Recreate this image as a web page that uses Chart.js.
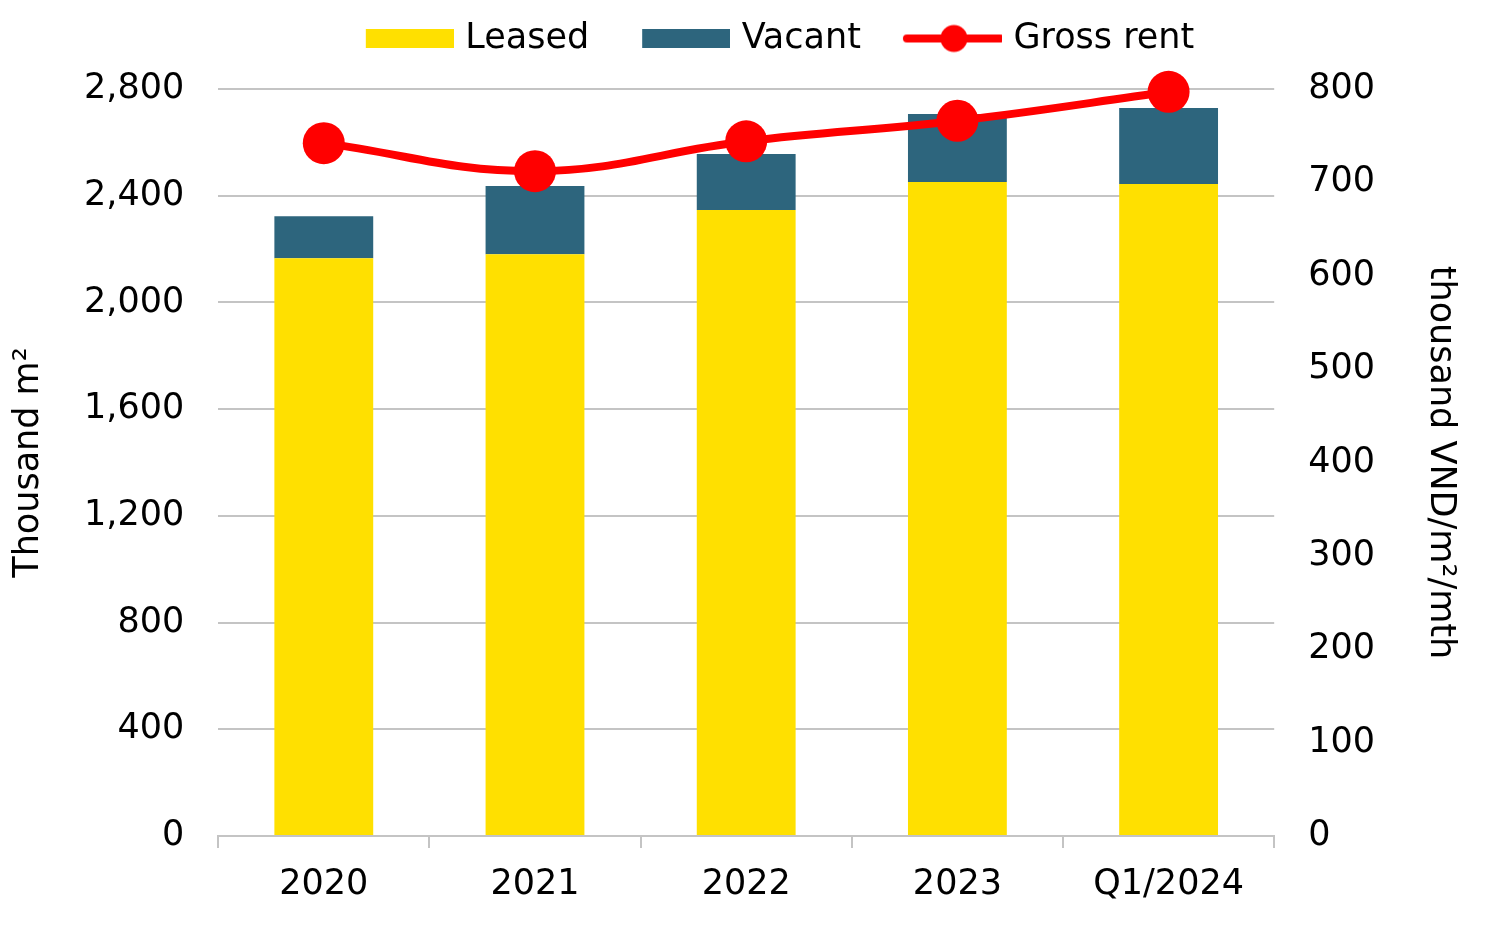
<!DOCTYPE html>
<html>
<head>
<meta charset="utf-8">
<title>Office supply and rent</title>
<script src="https://cdn.jsdelivr.net/npm/chart.js@4.4.0/dist/chart.umd.min.js"></script>
<style>
  body { margin: 0; background: #ffffff; }
  #wrap { width: 1485px; height: 940px; }
</style>
</head>
<body>
<div id="wrap"><canvas id="supplyChart"></canvas></div>
<script>
// values
var categories = ['2020', '2021', '2022', '2023', 'Q1/2024'];
var leased = [2166, 2181, 2346, 2451, 2444];      // thousand m2
var vacant = [157, 255, 210, 255, 285];           // thousand m2
var grossRent = [742, 712, 744, 766, 797];        // thousand VND/m2/mth
var leftTicks = [0, 400, 800, 1200, 1600, 2000, 2400, 2800];
var rightTicks = [0, 100, 200, 300, 400, 500, 600, 700, 800];

var YELLOW = '#FFE000';
var TEAL = '#2D657D';
var RED = '#FF0000';
var GRID = '#C4C4C4';

Chart.defaults.font.family = "'DejaVu Sans', sans-serif";
Chart.defaults.font.size = 35;
Chart.defaults.color = '#000000';

// legend icons drawn into small canvases, used as point styles
var BOX_W = 99;
var ICON_W = BOX_W + 12;
function makeIcon(h, draw) {
    var c = document.createElement('canvas');
    c.width = ICON_W;
    c.height = h;
    draw(c.getContext('2d'));
    return c;
}
var leasedIcon = makeIcon(19, function(ctx) {
    ctx.fillStyle = YELLOW;
    ctx.fillRect(ICON_W - 88, 0, 88, 19);
});
var vacantIcon = makeIcon(19, function(ctx) {
    ctx.fillStyle = TEAL;
    ctx.fillRect(ICON_W - 88, 0, 88, 19);
});
var rentIcon = makeIcon(30, function(ctx) {
    ctx.strokeStyle = RED;
    ctx.lineWidth = 8;
    ctx.lineCap = 'round';
    ctx.beginPath();
    ctx.moveTo(ICON_W - 95, 15);
    ctx.lineTo(ICON_W - 2, 15);
    ctx.stroke();
    ctx.fillStyle = RED;
    ctx.beginPath();
    ctx.arc(ICON_W - 48, 15, 13.5, 0, Math.PI * 2);
    ctx.fill();
});

// move the legend a bit so it sits where the original one does
var legendNudge = {
    id: 'legendNudge',
    afterLayout: function(chart) {
        var lg = chart.legend;
        lg.left += 25;
        lg.right += 25;
        lg.top -= 23;
        lg.bottom -= 23;
    }
};

function thousands(v) {
    return Number(v).toLocaleString('en-US');
}

var canvas = document.getElementById('supplyChart');
var supplyChart = new Chart(canvas, {
    type: 'bar',
    data: {
        labels: categories,
        datasets: [{
            label: 'Leased',
            data: leased,
            backgroundColor: YELLOW,
            borderWidth: 0,
            yAxisID: 'y',
            order: 1
        }, {
            label: 'Vacant',
            data: vacant,
            backgroundColor: TEAL,
            borderWidth: 0,
            yAxisID: 'y',
            order: 1
        }, {
            type: 'line',
            label: 'Gross rent',
            data: grossRent,
            yAxisID: 'y1',
            borderColor: RED,
            backgroundColor: RED,
            borderWidth: 8,
            pointRadius: 21,
            pointBorderWidth: 0,
            pointBackgroundColor: RED,
            tension: 0.4,
            clip: false,
            order: 0
        }]
    },
    options: {
        responsive: true,
        maintainAspectRatio: false,
        animation: false,
        layout: {
            padding: { top: 8, left: 8, right: 0, bottom: 18 }
        },
        datasets: {
            bar: { barPercentage: 0.468, categoryPercentage: 1 }
        },
        plugins: {
            tooltip: { enabled: false },
            legend: {
                position: 'top',
                labels: {
                    usePointStyle: true,
                    pointStyleWidth: BOX_W,
                    padding: 36,
                    font: { size: 35 },
                    generateLabels: function() {
                        return [
                            { text: 'Leased', pointStyle: leasedIcon, fillStyle: YELLOW, lineWidth: 0, fontColor: '#000', datasetIndex: 0 },
                            { text: 'Vacant', pointStyle: vacantIcon, fillStyle: TEAL, lineWidth: 0, fontColor: '#000', datasetIndex: 1 },
                            { text: 'Gross rent', pointStyle: rentIcon, fillStyle: RED, lineWidth: 0, fontColor: '#000', datasetIndex: 2 }
                        ];
                    }
                }
            }
        },
        scales: {
            x: {
                stacked: true,
                offset: true,
                grid: {
                    offset: true,
                    drawOnChartArea: false,
                    drawTicks: true,
                    tickLength: 12,
                    color: GRID,
                    lineWidth: 2
                },
                border: { display: true, color: GRID, width: 2 },
                ticks: { padding: 16, font: { size: 35 }, maxRotation: 0 }
            },
            y: {
                stacked: true,
                position: 'left',
                min: 0,
                max: 2800,
                afterBuildTicks: function(axis) {
                    axis.ticks = leftTicks.map(function(v) { return { value: v }; });
                },
                ticks: {
                    padding: 34,
                    font: { size: 35 },
                    callback: function(v) { return thousands(v); }
                },
                grid: { color: GRID, lineWidth: 2, drawTicks: false },
                border: { display: false },
                title: {
                    display: true,
                    text: 'Thousand m²',
                    font: { size: 35 },
                    padding: { top: 0, bottom: 0 }
                }
            },
            y1: {
                position: 'right',
                min: 0,
                max: 800,
                afterBuildTicks: function(axis) {
                    axis.ticks = rightTicks.map(function(v) { return { value: v }; });
                },
                ticks: {
                    padding: 34,
                    font: { size: 35 },
                    callback: function(v) { return thousands(v); }
                },
                grid: { display: false, drawTicks: false },
                border: { display: false },
                title: {
                    display: true,
                    text: 'thousand VND/m²/mth',
                    font: { size: 35 },
                    padding: { top: 24, bottom: 10 }
                }
            }
        }
    },
    plugins: [legendNudge]
});
</script>
</body>
</html>
